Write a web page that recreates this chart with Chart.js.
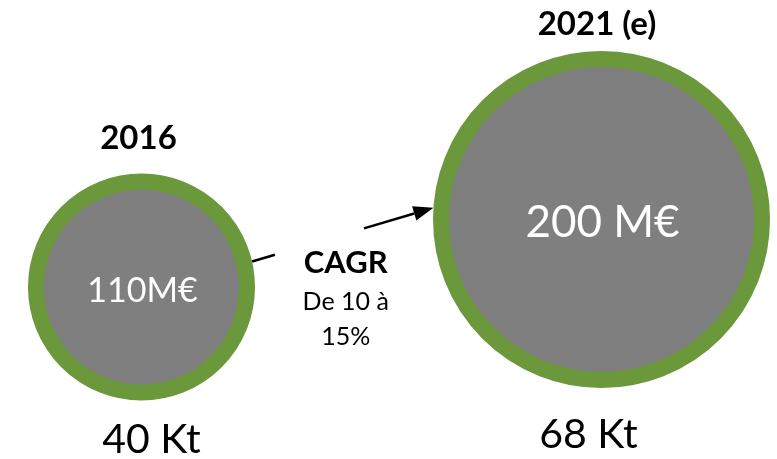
<!DOCTYPE html>
<html lang="fr">
<head>
<meta charset="utf-8">
<title>Marché 2016 – 2021 (e)</title>
<script src="https://cdn.jsdelivr.net/npm/chart.js@4.4.1/dist/chart.umd.min.js"></script>
<style>
  html, body { margin: 0; padding: 0; background: #ffffff; }
  #wrap { width: 777px; height: 459px; }
  canvas { display: block; }
</style>
</head>
<body>
<div id="wrap"><canvas id="chart" width="777" height="459"></canvas></div>
<script>
// Market size per period
const years = ['2016', '2021 (e)'];
const revenue = [110, 200];            // M€
const revenueText = ['110M€', '200 M€'];
const volume = [40, 68];               // Kt
const volumeUnit = ' Kt';
const cagrTitle = 'CAGR';
const cagrLines = ['De 10 à', '15%'];

// Presentation settings
const style = {
  fill: '#7f7f7f',
  ring: '#6a983a',
  ringWidth: 16,
  radius: [105.5, 160.5],
  font: 'Lato, "Open Sans", sans-serif',
  yearOffset: [{ dx: -3, dy: 25 }, { dx: -4.5, dy: 16 }],
  valueOffset: [{ dx: 1, dy: 15 }, { dx: 1, dy: 17.5 }],
  volumeOffset: [{ dx: 10, dy: 52.5 }, { dx: -13, dy: 60 }],
  arrowAngles: [-13, 184],   // degrees on each ring where the arrow starts / ends
  arrowGap: [0.126, 0.617],  // part of the arrow hidden behind the CAGR text
  cagrDx: 3
};

const points = years.map((y, i) => ({ x: i, y: revenue[i], r: style.radius[i] }));

const annotate = {
  id: 'annotate',
  afterDatasetsDraw(chart) {
    const ctx = chart.ctx;
    const els = chart.getDatasetMeta(0).data;
    const outer = els.map((el, i) => style.radius[i] + style.ringWidth / 2);

    ctx.save();
    ctx.textAlign = 'center';
    ctx.textBaseline = 'alphabetic';

    els.forEach((el, i) => {
      const R = outer[i];
      // year above the bubble
      ctx.fillStyle = '#000000';
      ctx.font = 'bold 33px ' + style.font;
      ctx.fillText(years[i], el.x + style.yearOffset[i].dx, el.y - R - style.yearOffset[i].dy);
      // revenue inside
      ctx.fillStyle = '#ffffff';
      ctx.font = (i === 0 ? '34px ' : '44px ') + style.font;
      ctx.fillText(revenueText[i], el.x + style.valueOffset[i].dx, el.y + style.valueOffset[i].dy);
      // volume below
      ctx.fillStyle = '#000000';
      ctx.font = '41px ' + style.font;
      ctx.fillText(volume[i] + volumeUnit, el.x + style.volumeOffset[i].dx, el.y + R + style.volumeOffset[i].dy);
    });

    // growth arrow between the two rings
    const a0 = style.arrowAngles[0] * Math.PI / 180;
    const a1 = style.arrowAngles[1] * Math.PI / 180;
    const p0 = { x: els[0].x + outer[0] * Math.cos(a0), y: els[0].y + outer[0] * Math.sin(a0) };
    const p1 = { x: els[1].x + outer[1] * Math.cos(a1), y: els[1].y + outer[1] * Math.sin(a1) };
    const at = t => ({ x: p0.x + (p1.x - p0.x) * t, y: p0.y + (p1.y - p0.y) * t });
    const g0 = at(style.arrowGap[0]);
    const g1 = at(style.arrowGap[1]);
    const ang = Math.atan2(p1.y - p0.y, p1.x - p0.x);
    const head = 20, half = 7.5;
    const base = { x: p1.x - head * Math.cos(ang), y: p1.y - head * Math.sin(ang) };

    ctx.strokeStyle = '#000000';
    ctx.lineWidth = 2.5;
    ctx.lineCap = 'butt';
    ctx.beginPath();
    ctx.moveTo(p0.x, p0.y); ctx.lineTo(g0.x, g0.y);
    ctx.moveTo(g1.x, g1.y); ctx.lineTo(base.x, base.y);
    ctx.stroke();
    ctx.fillStyle = '#000000';
    ctx.beginPath();
    ctx.moveTo(p1.x, p1.y);
    ctx.lineTo(base.x + half * Math.sin(ang), base.y - half * Math.cos(ang));
    ctx.lineTo(base.x - half * Math.sin(ang), base.y + half * Math.cos(ang));
    ctx.closePath();
    ctx.fill();

    // CAGR caption under the arrow's middle
    const mid = at(0.5);
    const cx = mid.x + style.cagrDx;
    ctx.font = 'bold 31px ' + style.font;
    ctx.fillText(cagrTitle, cx, mid.y + 38);
    ctx.font = '25px ' + style.font;
    ctx.fillText(cagrLines[0], cx, mid.y + 75);
    ctx.fillText(cagrLines[1], cx, mid.y + 110);
    ctx.restore();
  }
};

function draw() {
  new Chart(document.getElementById('chart'), {
    type: 'bubble',
    data: {
      labels: years,
      datasets: [{
        label: 'Chiffre d\'affaires',
        data: points,
        backgroundColor: style.fill,
        borderColor: style.ring,
        borderWidth: style.ringWidth,
        hoverBorderWidth: style.ringWidth,
        hoverRadius: 0,
        clip: false
      }]
    },
    options: {
      responsive: false,
      animation: false,
      devicePixelRatio: 1,
      events: [],
      layout: { padding: 0, autoPadding: false },
      plugins: { legend: { display: false }, tooltip: { enabled: false } },
      scales: {
        x: { type: 'linear', display: false, min: -0.3076, max: 1.3815 },
        y: { type: 'linear', display: false, min: -119.33, max: 492.67 }
      }
    },
    plugins: [annotate]
  });
}

if (document.fonts && document.fonts.load) {
  Promise.all([
    document.fonts.load('33px Lato'),
    document.fonts.load('bold 33px Lato')
  ]).then(draw, draw);
} else {
  draw();
}
</script>
</body>
</html>
